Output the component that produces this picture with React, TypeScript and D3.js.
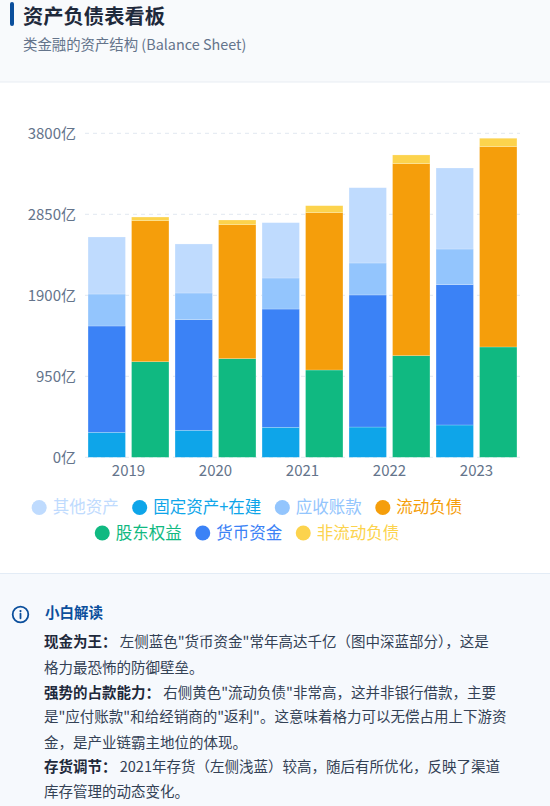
import React, { useRef, useEffect } from 'react';
import * as d3 from 'd3';

const years = ['2019', '2020', '2021', '2022', '2023'];

// 资产侧 (亿)
const fixedAssets = [293, 317, 352, 355, 379];
const cashFunds = [1247, 1297, 1387, 1549, 1646];
const receivables = [375, 313, 364, 375, 418];
const otherAssets = [669, 575, 649, 883, 950];

// 负债+权益侧 (亿)
const equity = [1121, 1157, 1024, 1192, 1294];
const currentLiab = [1654, 1571, 1845, 2252, 2349];
const nonCurrentLiab = [43, 55, 82, 102, 99];

const yTicks = [0, 950, 1900, 2850, 3800];

const legendRows = [
  ['其他资产', '固定资产+在建', '应收账款', '流动负债'],
  ['股东权益', '货币资金', '非流动负债'],
];

const colors: Record<string, string> = {
  其他资产: '#bfdbfe',
  '固定资产+在建': '#0ea5e9',
  应收账款: '#93c5fd',
  流动负债: '#f59e0b',
  股东权益: '#10b981',
  货币资金: '#3b82f6',
  非流动负债: '#fcd34d',
};

const notes = [
  [['现金为王：', true], [' 左侧蓝色"货币资金"常年高达千亿（图中深蓝部分），这是', false]],
  [['格力最恐怖的防御壁垒。', false]],
  [['强势的占款能力：', true], [' 右侧黄色"流动负债"非常高，这并非银行借款，主要', false]],
  [['是"应付账款"和给经销商的"返利"。这意味着格力可以无偿占用上下游资', false]],
  [['金，是产业链霸主地位的体现。', false]],
  [['存货调节：', true], [' 2021年存货（左侧浅蓝）较高，随后有所优化，反映了渠道', false]],
  [['库存管理的动态变化。', false]],
] as [string, boolean][][];

const FONT = '"Noto Sans CJK SC", "Noto Sans", sans-serif';
const W = 550;
const H = 806;

export default function App() {
  const svgRef = useRef<SVGSVGElement>(null);

  useEffect(() => {
    document.body.style.margin = '0';
    const svgEl = svgRef.current;
    if (!svgEl) return;
    const svg = d3.select(svgEl);
    svg.selectAll('*').remove();

    // header
    svg.append('rect').attr('x', 0).attr('y', 0).attr('width', W).attr('height', 82).attr('fill', '#f8fafc');
    svg.append('line').attr('x1', 0).attr('x2', W).attr('y1', 82).attr('y2', 82).attr('stroke', '#e8edf3');
    svg.append('rect').attr('x', 10).attr('y', 2).attr('width', 4).attr('height', 24).attr('rx', 2).attr('fill', '#0b4f9c');
    svg
      .append('text')
      .attr('x', 23)
      .attr('y', 23.5)
      .attr('font-size', '20.3px')
      .attr('font-weight', 700)
      .attr('fill', '#1e293b')
      .attr('font-family', FONT)
      .text('资产负债表看板');
    svg
      .append('text')
      .attr('x', 23)
      .attr('y', 45)
      .attr('dy', '0.35em')
      .attr('font-size', '14.4px')
      .attr('fill', '#64748b')
      .attr('font-family', FONT)
      .text('类金融的资产结构 (Balance Sheet)');

    // chart
    const x = d3.scaleBand<string>().domain(years).range([85, 520]);
    const sub = d3
      .scaleBand<string>()
      .domain(['asset', 'liab'])
      .range([0, x.bandwidth()])
      .paddingInner(0.14)
      .paddingOuter(0.07);
    const y = d3.scaleLinear().domain([0, 3800]).range([457.3, 133.3]);

    const g = svg.append('g');

    g.selectAll('.grid')
      .data(yTicks)
      .enter()
      .append('line')
      .attr('x1', 85)
      .attr('x2', 520)
      .attr('y1', (d) => y(d))
      .attr('y2', (d) => y(d))
      .attr('stroke', '#e2e8f0')
      .attr('stroke-dasharray', '4,4');

    g.selectAll('.ylab')
      .data(yTicks)
      .enter()
      .append('text')
      .attr('x', 76)
      .attr('y', (d) => y(d))
      .attr('dy', '0.35em')
      .attr('text-anchor', 'end')
      .attr('font-size', '15px')
      .attr('fill', '#64748b')
      .attr('font-family', FONT)
      .text((d) => `${d}亿`);

    g.selectAll('.xlab')
      .data(years)
      .enter()
      .append('text')
      .attr('x', (d) => x(d)! + x.bandwidth() / 2)
      .attr('y', 471)
      .attr('dy', '0.35em')
      .attr('text-anchor', 'middle')
      .attr('font-size', '15px')
      .attr('fill', '#64748b')
      .attr('font-family', FONT)
      .text((d) => d);

    const stacks: { side: string; series: [string, number[]][] }[] = [
      {
        side: 'asset',
        series: [
          ['固定资产+在建', fixedAssets],
          ['货币资金', cashFunds],
          ['应收账款', receivables],
          ['其他资产', otherAssets],
        ],
      },
      {
        side: 'liab',
        series: [
          ['股东权益', equity],
          ['流动负债', currentLiab],
          ['非流动负债', nonCurrentLiab],
        ],
      },
    ];

    stacks.forEach(({ side, series }) => {
      const rows = years.map((yr, i) => {
        const r: Record<string, number | string> = { year: yr };
        series.forEach(([name, vals]) => (r[name] = vals[i]));
        return r;
      });
      const stacked = d3.stack<Record<string, number | string>>().keys(series.map((s) => s[0]))(rows);
      stacked.forEach((layer) => {
        g.selectAll(null)
          .data(layer)
          .enter()
          .append('rect')
          .attr('x', (d) => x(d.data.year as string)! + sub(side)!)
          .attr('width', sub.bandwidth())
          .attr('y', (d) => y(d[1]))
          .attr('height', (d) => y(d[0]) - y(d[1]))
          .attr('fill', colors[layer.key])
          .attr('stroke', 'rgba(255,255,255,0.35)')
          .attr('stroke-width', 0.6);
      });
    });

    // legend
    const legendY = [507.5, 533];
    const centerX = 247;
    legendRows.forEach((names, ri) => {
      const row = svg.append('g');
      let cx = 0;
      names.forEach((name) => {
        const item = row.append('g').attr('transform', `translate(${cx},0)`);
        item.append('circle').attr('cx', 7.5).attr('cy', 0).attr('r', 7.5).attr('fill', colors[name]);
        const t = item
          .append('text')
          .attr('x', 21)
          .attr('y', 0)
          .attr('dy', '0.35em')
          .attr('font-size', '16.5px')
          .attr('fill', colors[name])
          .attr('font-family', FONT)
          .text(name);
        const tw = (t.node() as SVGTextElement).getComputedTextLength();
        cx += 21 + tw + 13.5;
      });
      const total = cx - 13.5;
      row.attr('transform', `translate(${centerX - total / 2},${legendY[ri]})`);
    });

    // notes panel
    svg.append('rect').attr('x', 0).attr('y', 573).attr('width', W).attr('height', H - 573).attr('fill', '#f6f9fd');
    svg.append('line').attr('x1', 0).attr('x2', W).attr('y1', 573.5).attr('y2', 573.5).attr('stroke', '#e3ecf6');

    const icon = svg.append('g').attr('transform', 'translate(20.5,614.5)');
    icon.append('circle').attr('r', 7.8).attr('fill', 'none').attr('stroke', '#0b4f9c').attr('stroke-width', 1.8);
    icon.append('circle').attr('cx', 0).attr('cy', -3.4).attr('r', 1.1).attr('fill', '#0b4f9c');
    icon
      .append('line')
      .attr('x1', 0)
      .attr('x2', 0)
      .attr('y1', -0.8)
      .attr('y2', 3.8)
      .attr('stroke', '#0b4f9c')
      .attr('stroke-width', 1.8)
      .attr('stroke-linecap', 'round');

    svg
      .append('text')
      .attr('x', 45)
      .attr('y', 613.3)
      .attr('dy', '0.35em')
      .attr('font-size', '14.5px')
      .attr('font-weight', 700)
      .attr('fill', '#0b4f9c')
      .attr('font-family', FONT)
      .text('小白解读');

    const lineY = [641.7, 667.5, 692.5, 717, 742.5, 767.3, 792];
    notes.forEach((parts, i) => {
      const t = svg
        .append('text')
        .attr('x', 44)
        .attr('y', lineY[i])
        .attr('dy', '0.35em')
        .attr('font-size', '14.5px')
        .attr('font-family', FONT)
        .attr('xml:space', 'preserve');
      parts.forEach(([s, bold]) => {
        t.append('tspan')
          .attr('font-weight', bold ? 700 : 400)
          .attr('fill', bold ? '#1e293b' : '#334155')
          .text(s);
      });
    });
  }, []);

  return <svg ref={svgRef} width={W} height={H} style={{ display: 'block' }} />;
}
